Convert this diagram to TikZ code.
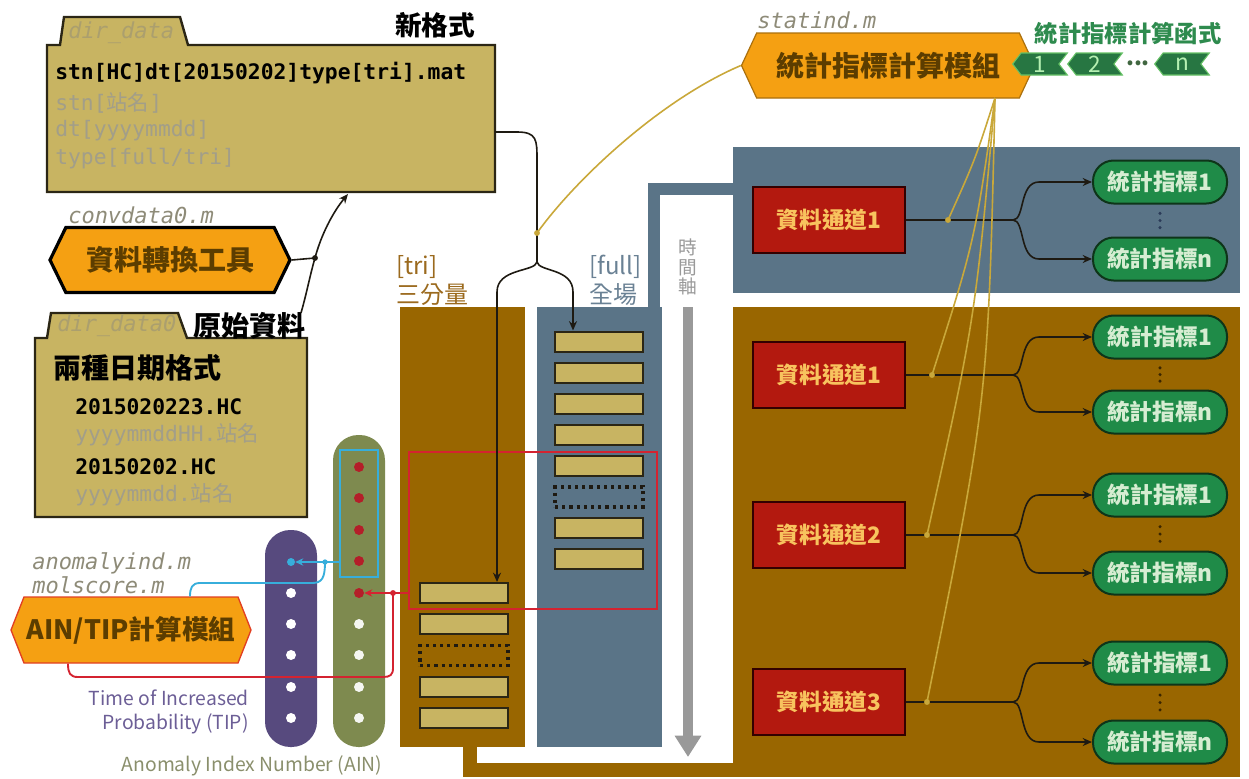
\documentclass[tikz,border=0pt]{standalone}
\usepackage{fontspec}
\setmainfont{Noto Sans CJK TC}
\setmonofont{DejaVu Sans Mono}
\newfontfamily\cjk{Noto Sans CJK TC}
\usetikzlibrary{shapes.symbols,arrows.meta,calc}
\definecolor{khaki}{HTML}{C8B462}
\definecolor{folderedge}{HTML}{2B2615}
\definecolor{brownc}{HTML}{996600}
\definecolor{bluegray}{HTML}{5A7487}
\definecolor{orangec}{HTML}{F5A012}
\definecolor{hextext}{HTML}{5C3D00}
\definecolor{chred}{HTML}{B3190F}
\definecolor{chtext}{HTML}{F8C35E}
\definecolor{ovgreen}{HTML}{1F8B48}
\definecolor{ovtext}{HTML}{D6EDD2}
\definecolor{ovedge}{HTML}{0E3519}
\definecolor{olivebar}{HTML}{7E8A4F}
\definecolor{purplebar}{HTML}{574A7E}
\definecolor{gold}{HTML}{C9A83A}
\definecolor{cyanc}{HTML}{37AEDB}
\definecolor{redc}{HTML}{D42330}
\definecolor{labelgray}{HTML}{8E8B78}
\definecolor{ingray}{HTML}{A29E89}
\definecolor{timegray}{HTML}{999999}
\definecolor{tricol}{HTML}{9B6A1E}
\definecolor{fullcol}{HTML}{6A8194}
\definecolor{tipcol}{HTML}{6C5E96}
\definecolor{aincol}{HTML}{8A8F6C}
\definecolor{fungreen}{HTML}{2E8B4E}
\definecolor{connc}{HTML}{1E1A12}
\begin{document}
\begin{tikzpicture}[x=0.75pt,y=-0.75pt,
  folder/.style={fill=khaki, draw=folderedge, line width=1.8pt, line join=miter},
  fbody/.style={inner sep=0pt, outer sep=0pt},
  monob/.style={font=\ttfamily\bfseries\fontsize{16}{18}\selectfont, text=black, anchor=west, inner sep=0pt},
  monog/.style={font=\ttfamily\fontsize{16}{18}\selectfont, text=ingray, anchor=west, inner sep=0pt},
  fname/.style={font=\ttfamily\itshape\fontsize{16.5}{18}\selectfont, text=labelgray, anchor=west, inner sep=0pt},
  titlelbl/.style={font=\bfseries\fontsize{21}{24}\selectfont, text=black, inner sep=0pt},
  hexo/.style={shape=signal, signal to=east and west, fill=orangec, text=hextext, font=\bfseries\fontsize{21}{24}\selectfont, inner sep=0pt},
  colllbl/.style={font=\fontsize{18}{20}\selectfont, anchor=west, inner sep=0pt},
  databox/.style={draw=folderedge, fill=khaki, line width=1.5pt, minimum width=66pt, minimum height=15pt, inner sep=0pt},
  gapbox/.style={draw=connc, line width=2.4pt, dash pattern=on 2.4pt off 3pt, minimum width=66pt, minimum height=15pt, inner sep=0pt},
  chbox/.style={fill=chred, draw=black!80!red, line width=1.5pt, minimum width=114pt, minimum height=49.5pt, text=chtext, font=\bfseries\fontsize{17}{19}\selectfont, inner sep=0pt},
  oval/.style={fill=ovgreen, draw=ovedge, line width=1.5pt, rounded corners=15.5pt, minimum width=100.5pt, minimum height=32.25pt, text=ovtext, font=\bfseries\fontsize{17}{19}\selectfont, inner sep=0pt},
  chev/.style={shape=signal, signal to=west, signal from=east, signal pointer angle=105, fill=fungreen!85!black, draw=green!60!black!60, line width=0.8pt, minimum width=41pt, minimum height=16.5pt, text=ovtext!85!green, font=\fontsize{17}{18}\selectfont, inner sep=0pt},
  conn/.style={draw=connc, line width=1.2pt},
  arr/.style={-{Stealth[length=7pt,width=6pt]}},
  dotn/.style={circle, inner sep=0pt, minimum size=7.5pt},
  fan/.style={draw=gold, line width=1.2pt}
]
\useasboundingbox (0,0) rectangle (1249,778);

% ---------- background panels and columns ----------
\fill[bluegray] (733,147) rectangle (1240,293);
\fill[brownc] (733,307) rectangle (1240,777);
\fill[brownc] (400,307) rectangle (525,747);
\fill[bluegray] (537,307) rectangle (662,747);
\draw[bluegray, line width=9pt, line join=miter] (654,310) -- (654,189) -- (736,189);
\draw[brownc, line width=10.5pt, line join=miter] (470,740) -- (470,770) -- (737,770);

% time axis
\draw[timegray, line width=7.5pt, -{Triangle[length=16pt,width=19pt]}] (688,307) -- (688,757);
\node[font=\fontsize{14}{14.5}\selectfont, text=timegray, align=center, inner sep=0pt] (taxis) at (688,267) {時\\間\\軸};

% column labels
\node[colllbl, text=tricol] (trilab) at (396,267) {[tri]};
\node[colllbl, text=tricol] (trilab2) at (396,295) {三分量};
\node[colllbl, text=fullcol] (fulllab) at (589,267) {[full]};
\node[colllbl, text=fullcol] (fulllab2) at (589,295) {全場};

% ---------- data boxes ----------
\node[databox] (t1) at (464,593) {};
\node[databox] (t2) at (464,624) {};
\node[gapbox]  (t3) at (464,655.5) {};
\node[databox] (t4) at (464,686.5) {};
\node[databox] (t5) at (464,718) {};

\node[databox] (f1) at (599,341.5) {};
\node[databox] (f2) at (599,372.5) {};
\node[databox] (f3) at (599,403.5) {};
\node[databox] (f4) at (599,434.5) {};
\node[databox] (f5) at (599,465.5) {};
\node[gapbox]  (f6) at (599,497) {};
\node[databox] (f7) at (599,528) {};
\node[databox] (f8) at (599,559) {};

% red window
\node[draw=redc, line width=1.5pt, minimum width=186pt, minimum height=117.75pt, inner sep=0pt] (rbox) at (533,530.5) {};

% ---------- AIN / TIP pills ----------
\fill[olivebar, rounded corners=19pt] (333,435) rectangle (385,747);
\fill[purplebar, rounded corners=19pt] (265,530) rectangle (317,747);
\node[draw=cyanc, line width=1.5pt, minimum width=28.5pt, minimum height=95.25pt, inner sep=0pt] (cbox) at (359,513.5) {};

\node[dotn, fill=redc!85!black] (a1) at (359,467) {};
\node[dotn, fill=redc!85!black] (a2) at (359,498) {};
\node[dotn, fill=redc!85!black] (a3) at (359,530) {};
\node[dotn, fill=redc!85!black] (a4) at (359,561) {};
\node[dotn, fill=redc!85!black] (a5) at (359,593) {};
\node[dotn, fill=white!92!olivebar] (a6) at (359,624) {};
\node[dotn, fill=white!92!olivebar] (a7) at (359,655) {};
\node[dotn, fill=white!92!olivebar] (a8) at (359,687) {};
\node[dotn, fill=white!92!olivebar] (a9) at (359,718) {};

\node[dotn, minimum size=6pt, fill=cyanc] (p1) at (291,562) {};
\node[dotn, fill=white] (p2) at (291,593) {};
\node[dotn, fill=white] (p3) at (291,624) {};
\node[dotn, fill=white] (p4) at (291,655) {};
\node[dotn, fill=white] (p5) at (291,687) {};
\node[dotn, fill=white] (p6) at (291,718) {};

\node[font=\fontsize{14.5}{17.5}\selectfont, text=tipcol, align=right, anchor=east, inner sep=0pt] (tiplab) at (249,712) {Time of Increased\\Probability (TIP)};
\node[font=\fontsize{14.5}{17}\selectfont, text=aincol, inner sep=0pt] (ainlab) at (252,766) {Anomaly Index Number (AIN)};

% ---------- folders ----------
\node[fbody, minimum width=336pt, minimum height=110.25pt] (dd) at (271,118.5) {};
\filldraw[folder] (dd.north west) -- ++(13,0) -- ++(4,-28) -- ++(116,0) -- ++(8,28) -- (dd.north east) -- (dd.south east) -- (dd.south west) -- cycle;
\node[fname, text=khaki!60!gray] (ddname) at (68,33) {dir\_data};
\node[titlelbl, font=\bfseries\fontsize{20}{22}\selectfont] (newfmt) at (435,25) {新格式};
\node[monob] (ddl1) at (55,73) {stn[HC]dt[20150202]type[tri].mat};
\node[monog] (ddl2) at (55,103) {stn[{\cjk 站名}]};
\node[monog] (ddl3) at (55,131) {dt[yyyymmdd]};
\node[monog] (ddl4) at (55,159) {type[full/tri]};

\node[fbody, minimum width=204pt, minimum height=134.25pt] (dd0) at (171,427.5) {};
\filldraw[folder] (dd0.north west) -- ++(12,0) -- ++(4,-25) -- ++(127,0) -- ++(9,25) -- (dd0.north east) -- (dd0.south east) -- (dd0.south west) -- cycle;
\node[fname, text=khaki!60!gray] (dd0name) at (57,326) {dir\_data0};
\node[titlelbl] (rawlab) at (249,326) {原始資料};
\node[titlelbl, anchor=west] (twofmt) at (53,368) {兩種日期格式};
\node[monob] (r1) at (75,407) {2015020223.HC};
\node[monog] (r2) at (75,435) {yyyymmddHH.{\cjk 站名}};
\node[monob] (r3) at (75,467) {20150202.HC};
\node[monog] (r4) at (75,495) {yyyymmdd.{\cjk 站名}};

% ---------- converter ----------
\node[fname] (convname) at (68,215) {convdata0.m};
\node[hexo, draw=black, line width=2.4pt, signal pointer angle=128, minimum width=180pt, minimum height=48.75pt] (conv) at (170,260) {資料轉換工具};
\coordinate (cj) at (315,258);
\coordinate (rawout) at (301,313);
\coordinate (ddin) at (348,194);
\draw[conn] (conv.east) -- (cj);
\draw[conn, arr] (rawout) .. controls (307,292) and (310,275) .. (cj) .. controls (321,235) and (333,212) .. (ddin);
\fill[connc] (cj) circle (2.2pt);

% ---------- data flow to columns ----------
\coordinate (ddout) at ($(dd.east)+(0,13.5)$);
\coordinate (split) at (537,262);
\coordinate (gj) at (537,233);
\coordinate (lx) at (497,292);
\coordinate (rx) at (573,292);
\draw[conn] (ddout) -- (517,132) .. controls (537,132) and (537,140) .. (537,160) -- (split);
\draw[conn, arr] (split) .. controls (535,272) and (497,268) .. (lx) -- (lx |- t1.north);
\draw[conn, arr] (split) .. controls (539,272) and (573,268) .. (rx) -- (rx |- f1.north);

% ---------- statistics module ----------
\node[fname] (statname) at (757,20) {statind.m};
\node[hexo, draw=orangec!70!black, line width=0.9pt, signal pointer angle=130, minimum width=219.75pt, minimum height=48.75pt] (stat) at (888,65.5) {統計指標計算模組};
\node[font=\bfseries\fontsize{17.5}{19}\selectfont, text=fungreen, inner sep=0pt] (funlab) at (1128,34) {統計指標計算函式};
\node[chev] (c1) at (1040,64) {1};
\node[chev] (c2) at (1095,64) {2};
\node[font=\bfseries\fontsize{17}{18}\selectfont, text=green!20!black!75, inner sep=0pt] (cdots) at (1138,63) {...};
\node[chev] (cn) at (1182,64) {n};

\draw[fan] (stat.west) .. controls (660,100) and (575,180) .. (gj);
\fill[gold] (gj) circle (2.2pt);

% ---------- channels ----------
\coordinate (sfan) at (995,98);
\foreach \i/\lab/\cy/\ay/\by/\jx/\dc in {1/資料通道1/220/182/259/948/2B3B58,2/資料通道1/375/337/412/932/3B2600,3/資料通道2/535/495/573/927/3B2600,4/資料通道3/702/663/742/927/3B2600}{
  \node[chbox] (ch\i) at (829,\cy) {\lab};
  \node[oval] (oa\i) at (1160,\ay) {統計指標1};
  \node[oval] (ob\i) at (1160,\by) {統計指標n};
  \coordinate (bp\i) at (1013,\cy);
  \coordinate (jd\i) at (\jx,\cy);
  \draw[conn] (ch\i.east) -- (bp\i);
  \draw[conn, arr] (bp\i) .. controls ($(bp\i)+(12,0)$) and ($(bp\i |- oa\i.west)+(6,0)$) .. ($(bp\i |- oa\i.west)+(26,0)$) -- (oa\i.west);
  \draw[conn, arr] (bp\i) .. controls ($(bp\i)+(12,0)$) and ($(bp\i |- ob\i.west)+(6,0)$) .. ($(bp\i |- ob\i.west)+(26,0)$) -- (ob\i.west);
  \definecolor{vd}{HTML}{\dc}
  \foreach \t in {0.28,0.5,0.72}{\fill[vd] ($(oa\i.south)!\t!(ob\i.north)$) circle (1.3pt);}
}
\foreach \i/\cx/\cyy in {1/975/160,2/975/240,3/975/320,4/988/400}{
  \draw[fan] (sfan) .. controls (\cx,\cyy) .. (jd\i);
  \fill[gold] (jd\i) circle (2.2pt);
}

% ---------- AIN/TIP module ----------
\node[fname] (anoname) at (32,563) {anomalyind.m};
\node[fname] (molname) at (32,585) {molscore.m};
\node[hexo, draw=redc!70!orange, line width=1pt, signal pointer angle=137, minimum width=180pt, minimum height=49.5pt, font=\bfseries\fontsize{20}{22}\selectfont] (ain) at (131,630) {AIN/TIP計算模組};

% cyan: AIN window -> TIP
\coordinate (cyj) at (325,562);
\coordinate (ainc) at ($(ain.north)+(59,0)$);
\draw[cyanc, line width=1.4pt] (cbox.west |- cyj) -- (cyj);
\draw[cyanc, line width=1.4pt, -{Stealth[length=6pt,width=5.5pt]}] (cyj) -- (p1.east);
\draw[cyanc, line width=1.4pt] (cyj) .. controls (325,578) and (322,583) .. (312,583) -- (200,583) .. controls (192,583) and (190,588) .. (ainc);
\fill[cyanc] (cyj) circle (2pt);

% red: window -> AIN
\coordinate (rj) at (393,593);
\coordinate (ainr) at ($(ain.south)+(-63,0)$);
\draw[redc, line width=1.4pt] (rbox.west |- rj) -- (rj);
\draw[redc, line width=1.4pt, -{Stealth[length=6pt,width=5.5pt]}] (rj) -- (a5.east);
\draw[redc, line width=1.4pt] (rj) -- (393,668) .. controls (393,675) and (390,677) .. (383,677) -- (78,677) .. controls (70,677) and (68,673) .. (ainr);
\fill[redc] (rj) circle (2.2pt);

\end{tikzpicture}
\end{document}
